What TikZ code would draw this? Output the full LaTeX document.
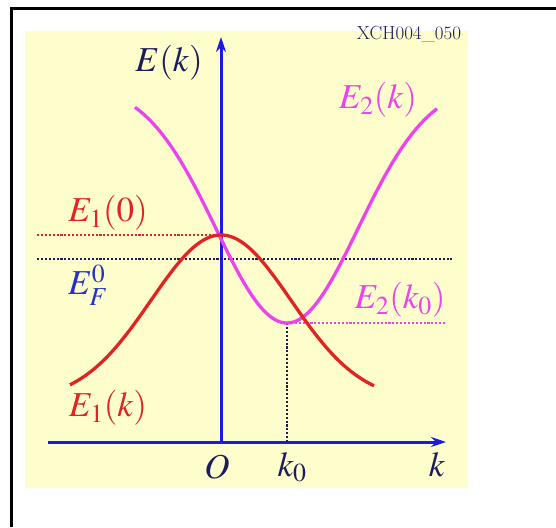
\documentclass[tikz,border=0pt]{standalone}
\usepackage{mathptmx}
\usetikzlibrary{arrows.meta, positioning}
\definecolor{cyellow}{HTML}{FEFECC}
\definecolor{cblue}{HTML}{1A1AE0}
\definecolor{cnavy}{HTML}{1C1C5C}
\definecolor{cred}{HTML}{E02424}
\definecolor{cmag}{HTML}{EC44EC}
\definecolor{cfermi}{HTML}{2430C8}
\tikzset{
  every picture/.style={x=1pt, y=-1pt},
  axis/.style={draw=cblue, line width=3pt, -{Stealth[length=15pt, width=10pt]}},
  band/.style={line width=3.3pt, smooth, samples=90},
  guide/.style={line width=2.1pt, dash pattern=on 2.1pt off 1.8pt},
  lbl/.style={font=\fontsize{35}{35}\selectfont, inner sep=0pt},
}

\begin{document}
\begin{tikzpicture}
  \useasboundingbox (0,0) rectangle (556,527);
  % frame and background
  \coordinate (fcorner) at (11.5,8.5);
  \coordinate (fbottom) at (11.5,527);
  \coordinate (fright) at (556,8.5);
  \draw[line width=2.5pt] (fbottom) -- (fcorner) -- (fright);
  \fill[cyellow] (25,31) rectangle (468,488);
  \node[font=\bfseries\fontsize{19}{19}\selectfont, text=cnavy] (tag) at (409,34) {XCH004\_050};
  % axes
  \coordinate (origin) at (221,442);
  \coordinate (kstart) at (48,442);
  \coordinate (ktip) at (446,442);
  \coordinate (etip) at (221,37);
  \draw[axis] (kstart) -- (ktip);
  \draw[axis] (origin) -- (etip);
  % guide lines
  \coordinate (peak) at (221,235);
  \coordinate (peakl) at (37,235);
  \coordinate (fermil) at (37,259);
  \coordinate (fermir) at (452,259);
  \coordinate (valley) at (287,323);
  \coordinate (valleyr) at (446,323);
  \coordinate (kzero) at (287,442);
  \draw[guide, cred] (peakl) -- (peak);
  \draw[guide, cnavy] (fermil) -- (fermir);
  \draw[guide, cmag] (valley) -- (valleyr);
  \draw[guide, cnavy] (valley) -- (kzero);
  % bands
  \draw[band, cmag] plot[domain=135:437] (\x, {323-240*(1-exp(-0.5*((\x-287)/71)^2))});
  \draw[band, cred] plot[domain=70:374] (\x, {235+166*(1-exp(-0.5*((\x-221)/70)^2))});
  % labels
  \node[lbl, text=cnavy] (ek) at (169,63) {$E(k)$};
  \node[lbl, text=cmag] (e2k) at (378,100) {$E_2(k)$};
  \node[lbl, text=cred] (e10) at (108,213) {$E_1(0)$};
  \node[lbl, text=cfermi] (ef) at (88,285) {$E_F^0$};
  \node[lbl, text=cmag] (e2k0) at (400,300) {$E_2(k_0)$};
  \node[lbl, text=cred] (e1k) at (108,408) {$E_1(k)$};
  \node[lbl, text=cnavy] (o) at (217,467) {$O$};
  \node[lbl, text=cnavy] (k0) at (292,467) {$k_0$};
  \node[lbl, text=cnavy] (k) at (437,465) {$k$};
\end{tikzpicture}
\end{document}
